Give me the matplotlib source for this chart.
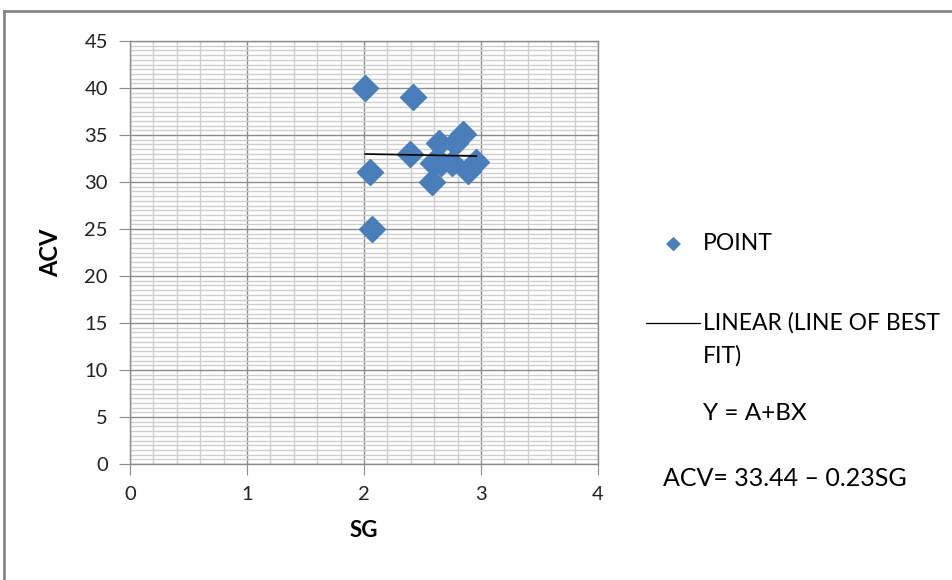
import numpy as np
import matplotlib
matplotlib.use("Agg")
import matplotlib.pyplot as plt
from matplotlib.lines import Line2D
from matplotlib.ticker import MultipleLocator

plt.rcParams['font.family'] = ['Lato', 'DejaVu Sans']

# data
sg = [2.01, 2.42, 2.05, 2.07, 2.39, 2.64, 2.85, 2.78, 2.58, 2.59, 2.66, 2.75, 2.89, 2.96]
acv = [40, 39, 31.1, 25, 33, 34.2, 35.1, 34.1, 30, 32, 32, 32, 31.2, 32.1]

# fit coefficients shown on the chart
A = 33.44
B = -0.23

blue = '#4A7EBB'

fig = plt.figure(figsize=(9.53, 5.80), dpi=100)
ax = fig.add_axes([130 / 953, 116 / 580, 468 / 953, 423 / 580])

ax.set_xlim(0, 4)
ax.set_ylim(0, 45)
ax.xaxis.set_major_locator(MultipleLocator(1))
ax.xaxis.set_minor_locator(MultipleLocator(0.2))
ax.yaxis.set_major_locator(MultipleLocator(5))
ax.yaxis.set_minor_locator(MultipleLocator(0.5))

ax.grid(which='minor', color='#cfcfcf', linewidth=1.0)
ax.grid(which='major', color='#8c8c8c', linewidth=1.0)
ax.set_axisbelow(True)

for s in ax.spines.values():
    s.set_color('#8c8c8c')
    s.set_linewidth(1.0)

ax.tick_params(which='major', length=8, color='#8c8c8c', labelsize=14.5, pad=8,
               labelcolor='#222222')
ax.tick_params(which='minor', length=0)

ax.plot(sg, acv, linestyle='none', marker='D', markersize=13, color=blue,
        label='POINT', zorder=3)

xs = np.array([min(sg), max(sg)])
ax.plot(xs, A + B * xs, color='black', linewidth=1.2, zorder=4)

ax.set_xlabel('SG', fontsize=16, fontweight='bold', labelpad=12)
ax.set_ylabel('ACV', fontsize=17, fontweight='bold', labelpad=16)

# legend and equation, placed like the Excel legend
fig.text(666 / 953, 1 - 243 / 580, '\u25C6', color=blue, fontsize=14,
         ha='left', va='center', family=['DejaVu Sans'])
fig.text(703 / 953, 1 - 243 / 580, 'POINT', fontsize=16.5, ha='left', va='center')
fig.add_artist(Line2D([646 / 953, 700 / 953], [1 - 323 / 580, 1 - 323 / 580],
                      color='black', linewidth=0.9))
fig.text(703 / 953, 1 - 323 / 580, 'LINEAR (LINE OF BEST', fontsize=16.5,
         ha='left', va='center')
fig.text(703 / 953, 1 - 356 / 580, 'FIT)', fontsize=16.5, ha='left', va='center')
fig.text(703 / 953, 1 - 413 / 580, 'Y = A+BX', fontsize=17.5, ha='left', va='center')
fig.text(663 / 953, 1 - 478 / 580, 'ACV= 33.44 \u2013 0.23SG', fontsize=18,
         ha='left', va='center')

# chart area border (cropped at right and bottom)
fig.add_artist(Line2D([4 / 953, 4 / 953], [0, 1 - 11 / 580], color='#868686',
                      linewidth=2))
fig.add_artist(Line2D([4 / 953, 1], [1 - 11 / 580, 1 - 11 / 580], color='#868686',
                      linewidth=2))

fig.savefig('out.png', dpi=100)
